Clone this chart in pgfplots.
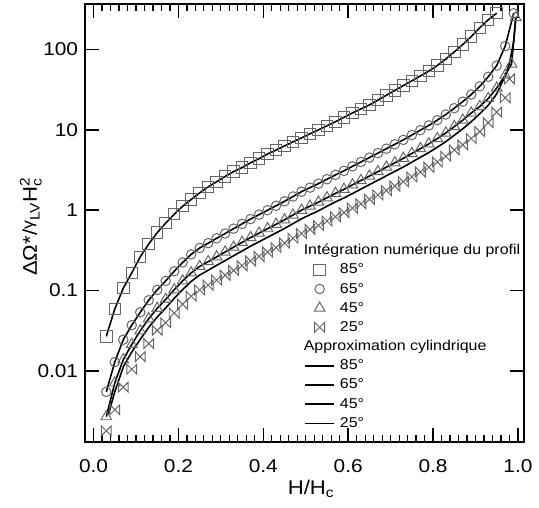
\documentclass[border=0pt]{standalone}
\usepackage{pgfplots}
\pgfplotsset{compat=1.18}
\usepackage{pgfplotstable}
\usepackage{amsmath}
\usepackage{fontspec}
\setmainfont{Liberation Sans}[FakeStretch=1.12]

% open bowtie mark for the 25 degree series
\pgfdeclareplotmark{bowtie}{%
  \pgfpathmoveto{\pgfqpoint{-\pgfplotmarksize}{\pgfplotmarksize}}%
  \pgfpathlineto{\pgfqpoint{\pgfplotmarksize}{-\pgfplotmarksize}}%
  \pgfpathlineto{\pgfqpoint{\pgfplotmarksize}{\pgfplotmarksize}}%
  \pgfpathlineto{\pgfqpoint{-\pgfplotmarksize}{-\pgfplotmarksize}}%
  \pgfpathclose
  \pgfusepathqstroke}

\pgfplotstableread{
x y
0.03 0.027
0.05 0.059
0.07 0.107
0.09 0.166
0.11 0.263
0.13 0.380
0.15 0.525
0.17 0.692
0.19 0.891
0.21 1.12
0.23 1.36
0.25 1.64
0.27 1.95
0.29 2.26
0.31 2.63
0.33 3.02
0.35 3.39
0.37 3.89
0.39 4.37
0.41 5.0
0.43 5.6
0.45 6.31
0.47 7.08
0.49 7.94
0.51 8.91
0.53 10.0
0.55 11.2
0.57 12.6
0.59 14.3
0.61 16.2
0.63 18.2
0.65 20.4
0.67 23.4
0.69 26.9
0.71 30.9
0.73 35.5
0.75 40.7
0.77 46.8
0.79 53.7
0.81 63.1
0.83 75.9
0.85 93.3
0.87 115
0.89 145
0.91 186
0.93 234
0.95 282
}\degA

\pgfplotstableread{
x y
0.03 0.0055
0.05 0.0129
0.07 0.0245
0.09 0.0372
0.11 0.0537
0.13 0.0759
0.15 0.102
0.17 0.132
0.19 0.174
0.21 0.224
0.23 0.282
0.25 0.339
0.27 0.389
0.29 0.447
0.31 0.513
0.33 0.589
0.35 0.676
0.37 0.776
0.39 0.881
0.41 1.00
0.43 1.135
0.45 1.29
0.47 1.48
0.49 1.70
0.51 1.91
0.53 2.14
0.55 2.43
0.57 2.75
0.59 3.09
0.61 3.51
0.63 3.98
0.65 4.52
0.67 5.13
0.69 5.82
0.71 6.61
0.73 7.50
0.75 8.61
0.77 9.89
0.79 11.35
0.81 13.2
0.83 15.5
0.85 18.6
0.87 22.4
0.89 27.5
0.91 34.7
0.93 45.7
0.95 63.1
0.97 110
0.99 282
}\degB

\pgfplotstableread{
x y
0.03 0.0027
0.05 0.0071
0.07 0.0138
0.09 0.0214
0.11 0.0316
0.13 0.0447
0.15 0.0601
0.17 0.0778
0.19 0.1025
0.21 0.132
0.23 0.166
0.25 0.200
0.27 0.229
0.29 0.263
0.31 0.302
0.33 0.347
0.35 0.398
0.37 0.457
0.39 0.519
0.41 0.589
0.43 0.668
0.45 0.760
0.47 0.872
0.49 1.00
0.51 1.125
0.53 1.26
0.55 1.43
0.57 1.62
0.59 1.82
0.61 2.07
0.63 2.34
0.65 2.66
0.67 3.02
0.69 3.43
0.71 3.89
0.73 4.42
0.75 5.07
0.77 5.83
0.79 6.69
0.81 7.78
0.83 9.13
0.85 10.96
0.87 13.2
0.89 16.2
0.91 19.5
0.93 24.5
0.95 33.1
0.97 47.9
0.985 66
0.995 250
}\degC

\pgfplotstableread{
x y
0.03 0.0018
0.05 0.0033
0.07 0.0063
0.09 0.0105
0.11 0.0151
0.13 0.0219
0.15 0.032
0.17 0.0399
0.19 0.0525
0.21 0.0676
0.23 0.0852
0.25 0.102
0.27 0.117
0.29 0.135
0.31 0.155
0.33 0.178
0.35 0.204
0.37 0.234
0.39 0.266
0.41 0.302
0.43 0.343
0.45 0.390
0.47 0.447
0.49 0.513
0.51 0.577
0.53 0.646
0.55 0.734
0.57 0.831
0.59 0.933
0.61 1.06
0.63 1.20
0.65 1.365
0.67 1.55
0.69 1.76
0.71 2.00
0.73 2.27
0.75 2.60
0.77 2.99
0.79 3.43
0.81 3.99
0.83 4.68
0.85 5.62
0.87 6.5
0.89 7.8
0.91 9.5
0.93 12.3
0.95 16.6
0.97 25
0.98 43
}\degD

% cylindrical approximation, 25 degrees
\pgfplotstableread{
x y
0.035 0.0029
0.05 0.0055
0.07 0.0112
0.09 0.0172
0.11 0.0247
0.13 0.0349
0.15 0.0469
0.17 0.0607
0.19 0.080
0.21 0.103
0.23 0.130
0.25 0.156
0.27 0.179
0.29 0.206
0.31 0.236
0.33 0.271
0.35 0.311
0.37 0.357
0.39 0.405
0.41 0.46
0.43 0.522
0.45 0.593
0.47 0.681
0.49 0.782
0.51 0.879
0.53 0.984
0.55 1.12
0.57 1.27
0.59 1.42
0.61 1.61
0.63 1.83
0.65 2.08
0.67 2.36
0.69 2.68
0.71 3.04
0.73 3.45
0.75 3.96
0.77 4.55
0.79 5.22
0.81 6.07
0.83 7.13
0.85 8.56
0.87 10.3
0.89 12.6
0.91 15.8
0.93 20.2
0.95 28
0.97 47
0.98 67
0.99 125
0.995 250
}\cylD

\begin{document}
\begin{tikzpicture}
\begin{axis}[
  name=ax,
  scale only axis, width=222pt, height=221.5pt,
  xmin=-0.02, xmax=1.015,
  ymode=log, ymin=0.0013, ymax=368,
  xtick={0,0.2,0.4,0.6,0.8,1},
  xticklabels={0.0,0.2,0.4,0.6,0.8,1.0},
  minor x tick num=9,
  ytick={0.01,0.1,1,10,100},
  yticklabels={0.01,0.1,1,10,100},
  yminorticks=false,
  tick align=inside,
  major tick length=7pt, minor tick length=3.5pt,
  axis line style={line width=1pt},
  every tick/.append style={black, line width=0.8pt},
  every minor tick/.append style={line width=0.6pt},
  tick label style={font=\fontsize{9.4}{11}\selectfont},
  yticklabel style={xshift=0pt},
  xticklabel style={yshift=-5pt},
  xlabel={H/H$_{\text{c}}$},
  ylabel={ΔΩ*/\raisebox{0.35ex}{\fontsize{8}{8}\selectfont γ}$_{\text{LV}}$H$_{\text{c}}^{\text{2}}$},
  label style={font=\fontsize{10.5}{12}\selectfont},
  every axis x label/.style={at={(axis description cs:0.515,-0.099)}, anchor=base},
  every axis y label/.style={at={(axis description cs:-0.110,0.493)}, anchor=base, rotate=90},
  xlabel style={yshift=-4.5pt},
  legend image code/.code={\draw[mark repeat=2,mark phase=2,#1] plot coordinates {(0pt,0pt) (7.5pt,0pt) (15pt,0pt)};},
  legend cell align=left,
  legend style={at={(axis description cs:0.4975,0.46)}, anchor=north west,
    draw=none, fill=none, inner sep=0pt, column sep=1.5pt,
    font=\fontsize{7.2}{9.6}\selectfont,
    nodes={inner sep=0.9pt, text height=6pt, text depth=1.9pt}},
  marks/.style={only marks, mark options={draw=black!60, line width=0.5pt, fill=none}},
  curve/.style={no marks, black, line width=0.8pt},
]
\addlegendimage{empty legend}
\addlegendentry{\hspace{-18.3pt}Intégration numérique du profil}
\addplot[marks, mark=square, mark size=2.9pt] table {\degA};
\addlegendentry{85°}
\addplot[marks, mark=o, mark size=2.4pt] table {\degB};
\addlegendentry{65°}
\addplot[marks, mark=triangle, mark size=3.1pt] table {\degC};
\addlegendentry{45°}
\addplot[marks, mark=bowtie, mark size=2.5pt] table {\degD};
\addlegendentry{25°}
\addlegendimage{empty legend}
\addlegendentry{\hspace{-18.3pt}Approximation cylindrique}
\addplot[curve] table {\degA};
\addlegendentry{85°}
\addplot[curve] table {\degB};
\addlegendentry{65°}
\addplot[curve] table {\degC};
\addlegendentry{45°}
\addplot[curve] table {\cylD};
\addlegendentry{25°}
\end{axis}
\path (ax.south west) ++(-43pt,-33pt);
\path (ax.north east) ++(4.5pt,2pt);
\end{tikzpicture}
\end{document}
